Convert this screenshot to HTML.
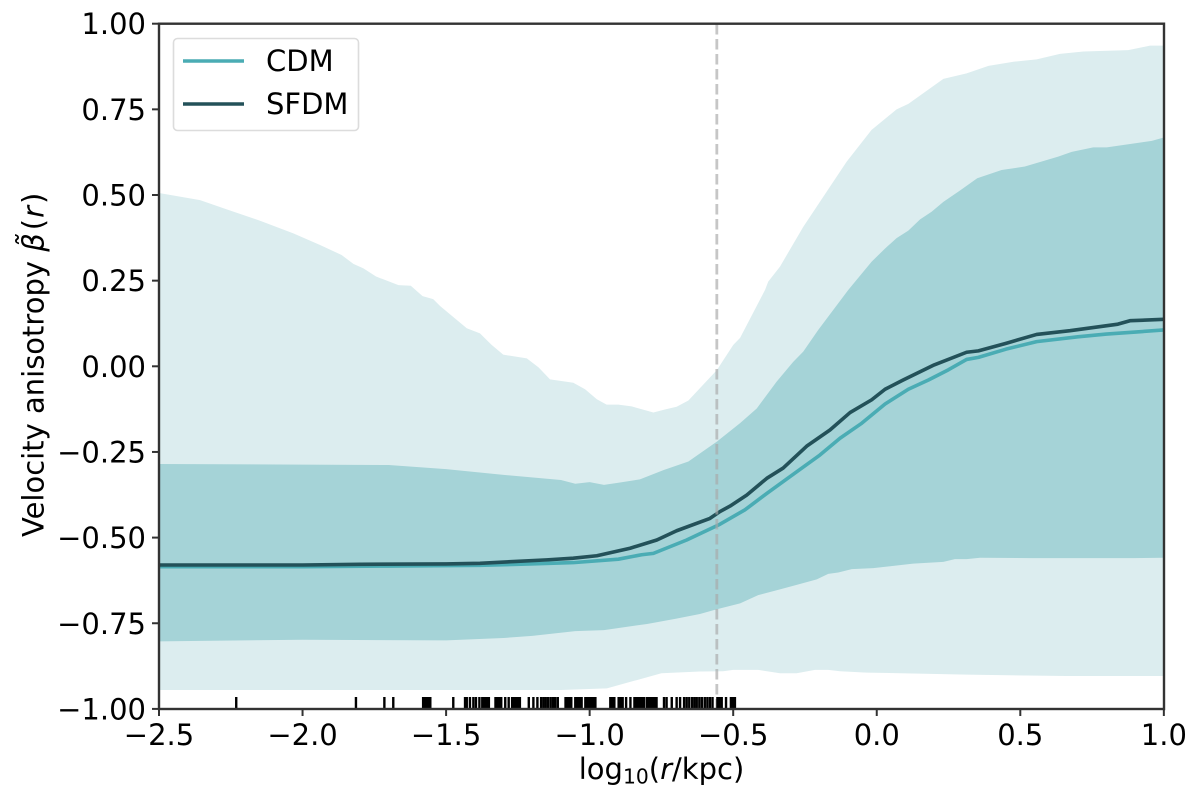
<!DOCTYPE html>
<html>
<head>
<meta charset="utf-8">
<title>Velocity anisotropy</title>
<style>
html,body{margin:0;padding:0;background:#fff;}
svg{display:block;}
text{font-family:"DejaVu Sans","Liberation Sans",sans-serif;fill:#000;}
</style>
</head>
<body>
<svg id="chart" width="1200" height="801" viewBox="0 0 1200 801" xmlns="http://www.w3.org/2000/svg">
<defs><clipPath id="plot-clip"><rect x="159" y="24" width="1005" height="685"></rect></clipPath></defs>
<g id="marks" clip-path="url(#plot-clip)"></g>
<g id="axes"></g>
<text x="661.5" y="779" font-size="29" text-anchor="middle">log<tspan font-size="20.3" dy="4.5">10</tspan><tspan dy="-4.5">(</tspan><tspan font-style="italic">r</tspan>/kpc)</text>
<text transform="translate(43.5,537) rotate(-90)" font-size="29" text-anchor="start">Velocity anisotropy <tspan font-style="italic">β̃</tspan><tspan dx="3">(</tspan><tspan font-style="italic" dx="1">r</tspan><tspan dx="2">)</tspan></text>
<g>
<rect x="173.5" y="38.5" width="185" height="92" rx="4" ry="4" fill="#fff" fill-opacity="0.85" stroke="#dcdcdc" stroke-width="1.6"></rect>
<line x1="183" x2="244" y1="61" y2="61" stroke="#4aacb4" stroke-width="3.6"></line>
<text x="266" y="71" font-size="29">CDM</text>
<line x1="183" x2="244" y1="104" y2="104" stroke="#235159" stroke-width="3.6"></line>
<text x="266" y="114" font-size="29">SFDM</text>
</g>
</svg>
<script>
const lightUpperX = [-2.5,-2.357,-2.264,-2.148,-2.032,-1.939,-1.864,-1.823,-1.788,-1.744,-1.666,-1.623,-1.582,-1.545,-1.521,-1.428,-1.382,-1.341,-1.301,-1.219,-1.178,-1.138,-1.057,-1.016,-0.975,-0.941,-0.9,-0.854,-0.778,-0.738,-0.697,-0.656,-0.557,-0.5,-0.476,-0.389,-0.378,-0.337,-0.256,-0.105,-0.018,0.069,0.11,0.232,0.313,0.389,0.476,0.557,0.638,0.72,0.876,0.952,1.0];
const lightUpperY = [0.506,0.485,0.458,0.425,0.388,0.354,0.325,0.299,0.286,0.262,0.237,0.235,0.205,0.196,0.176,0.111,0.096,0.062,0.034,0.023,-0.003,-0.038,-0.048,-0.067,-0.096,-0.112,-0.112,-0.117,-0.135,-0.126,-0.118,-0.1,-0.011,0.062,0.083,0.223,0.247,0.291,0.407,0.597,0.69,0.75,0.766,0.839,0.855,0.877,0.889,0.896,0.912,0.919,0.923,0.936,0.936];
const lightLowerX = [-2.5,-1.5,-1.1,-0.94,-0.75,-0.616,-0.535,-0.5,-0.413,-0.337,-0.279,-0.215,-0.169,-0.128,-0.035,0.313,0.661,1.0];
const lightLowerY = [-0.945,-0.945,-0.945,-0.94,-0.896,-0.891,-0.89,-0.886,-0.886,-0.896,-0.896,-0.886,-0.886,-0.89,-0.894,-0.9,-0.904,-0.904];
const midUpperX = [-2.5,-2.0,-1.7,-1.5,-1.3,-1.1,-1.05,-1.0,-0.95,-0.9,-0.825,-0.743,-0.656,-0.557,-0.476,-0.418,-0.349,-0.291,-0.256,-0.204,-0.099,-0.018,0.029,0.069,0.11,0.151,0.191,0.232,0.29,0.35,0.435,0.516,0.632,0.679,0.754,0.801,0.958,1.0];
const midUpperY = [-0.285,-0.287,-0.288,-0.3,-0.317,-0.332,-0.343,-0.338,-0.346,-0.34,-0.33,-0.303,-0.278,-0.22,-0.166,-0.123,-0.045,0.013,0.043,0.106,0.223,0.305,0.344,0.374,0.396,0.429,0.451,0.48,0.513,0.549,0.573,0.583,0.612,0.626,0.639,0.639,0.658,0.668];
const midLowerX = [-2.5,-2.0,-1.5,-1.3,-1.2,-1.05,-0.95,-0.8,-0.7,-0.616,-0.557,-0.476,-0.413,-0.337,-0.279,-0.209,-0.169,-0.134,-0.087,-0.012,0.127,0.232,0.272,0.313,0.36,0.544,0.893,1.0];
const midLowerY = [-0.803,-0.798,-0.8,-0.793,-0.787,-0.773,-0.77,-0.752,-0.737,-0.723,-0.709,-0.692,-0.668,-0.651,-0.638,-0.622,-0.606,-0.602,-0.592,-0.589,-0.576,-0.571,-0.563,-0.563,-0.559,-0.56,-0.56,-0.559];
const cdmRadius = [-2.5,-2.0,-1.7,-1.382,-1.208,-1.057,-0.9,-0.819,-0.778,-0.662,-0.546,-0.459,-0.383,-0.279,-0.198,-0.128,-0.052,0.029,0.11,0.18,0.25,0.313,0.354,0.45,0.557,0.7,0.8,0.9,1.0];
const cdmValues = [-0.585,-0.585,-0.583,-0.581,-0.577,-0.573,-0.563,-0.55,-0.546,-0.507,-0.461,-0.419,-0.371,-0.308,-0.259,-0.21,-0.166,-0.11,-0.067,-0.04,-0.01,0.02,0.026,0.05,0.072,0.086,0.094,0.1,0.106];
const sfdmRadius = [-2.5,-2.0,-1.8,-1.5,-1.382,-1.266,-1.15,-1.057,-0.975,-0.859,-0.766,-0.697,-0.581,-0.546,-0.511,-0.453,-0.383,-0.326,-0.244,-0.163,-0.093,-0.018,0.029,0.092,0.2,0.313,0.354,0.45,0.557,0.673,0.84,0.882,1.0];
const sfdmValues = [-0.58,-0.58,-0.578,-0.577,-0.575,-0.57,-0.565,-0.56,-0.553,-0.531,-0.507,-0.48,-0.444,-0.424,-0.408,-0.376,-0.327,-0.297,-0.233,-0.186,-0.135,-0.098,-0.067,-0.04,0.004,0.041,0.045,0.067,0.093,0.104,0.123,0.133,0.137];
const rugValues = [-2.231,-1.814,-1.715,-1.684,-1.58,-1.575,-1.57,-1.565,-1.56,-1.555,-1.475,-1.434,-1.428,-1.417,-1.405,-1.396,-1.384,-1.374,-1.368,-1.362,-1.356,-1.351,-1.328,-1.322,-1.315,-1.308,-1.294,-1.282,-1.27,-1.263,-1.256,-1.25,-1.243,-1.212,-1.196,-1.182,-1.169,-1.161,-1.153,-1.145,-1.136,-1.128,-1.12,-1.111,-1.084,-1.077,-1.07,-1.064,-1.05,-1.043,-1.036,-1.028,-1.015,-1.008,-1.001,-0.994,-0.987,-0.98,-0.928,-0.921,-0.914,-0.899,-0.892,-0.885,-0.873,-0.858,-0.844,-0.837,-0.83,-0.823,-0.816,-0.81,-0.8,-0.793,-0.786,-0.779,-0.772,-0.767,-0.741,-0.732,-0.714,-0.697,-0.685,-0.671,-0.662,-0.653,-0.643,-0.635,-0.627,-0.618,-0.609,-0.599,-0.59,-0.581,-0.572,-0.555,-0.548,-0.54,-0.525,-0.508,-0.501,-0.494];
const referenceRadius = [-0.557];
const xTickValues = [-2.5,-2.0,-1.5,-1.0,-0.5,0.0,0.5,1.0];
const xTickLabels = ["−2.5","−2.0","−1.5","−1.0","−0.5","0.0","0.5","1.0"];
const yTickValues = [-1,-0.75,-0.5,-0.25,0,0.25,0.5,0.75,1];
const yTickLabels = ["−1.00","−0.75","−0.50","−0.25","0.00","0.25","0.50","0.75","1.00"];

const NS = 'http://www.w3.org/2000/svg';
const xScale = v => 159 + (v + 2.5) * 287.1;
const yScale = v => 366.3 - v * 342.6;
const marks = document.getElementById('marks');
const axes = document.getElementById('axes');

function make(tag, parent, props) {
  const el = document.createElementNS(NS, tag);
  for (const k in props) el.setAttribute(k, props[k]);
  parent.appendChild(el);
  return el;
}
function bandPoints(ux, uy, lx, ly) {
  const pts = [];
  for (let i = 0; i < ux.length; i++) pts.push(xScale(ux[i]).toFixed(2) + ',' + yScale(uy[i]).toFixed(2));
  for (let i = lx.length - 1; i >= 0; i--) pts.push(xScale(lx[i]).toFixed(2) + ',' + yScale(ly[i]).toFixed(2));
  return pts.join(' ');
}
function linePoints(xs, ys) {
  return xs.map((x, i) => xScale(x).toFixed(2) + ',' + yScale(ys[i]).toFixed(2)).join(' ');
}

const outerBand = make('polygon', marks, {points: bandPoints(lightUpperX, lightUpperY, lightLowerX, lightLowerY), fill: '#dcedef'});


const innerBand = make('polygon', marks, {points: bandPoints(midUpperX, midUpperY, midLowerX, midLowerY), fill: '#a5d3d7'});



const cdmLine = make('polyline', marks, {points: linePoints(cdmRadius, cdmValues), fill: 'none', stroke: '#4aacb4', 'stroke-width': 3.6, 'stroke-linejoin': 'round'});


const sfdmLine = make('polyline', marks, {points: linePoints(sfdmRadius, sfdmValues), fill: 'none', stroke: '#235159', 'stroke-width': 3.6, 'stroke-linejoin': 'round'});



referenceRadius.forEach(v => {
  const ref = make('line', marks, {x1: xScale(v), x2: xScale(v), y1: 24, y2: 709, stroke: '#a8a8a8', 'stroke-opacity': 0.65, 'stroke-width': 2.8, 'stroke-dasharray': '10.5 4.5'});
  
  
});

rugValues.forEach(v => {
  const rug = make('line', marks, {x1: xScale(v), x2: xScale(v), y1: 697, y2: 709, stroke: '#000', 'stroke-width': 2.4});
  
  
});

xTickValues.forEach((v, i) => {
  const px = xScale(v);
  const tick = make('line', axes, {x1: px, x2: px, y1: 709, y2: 716, stroke: '#333', 'stroke-width': 2});
  
  
  const label = make('text', axes, {x: px, y: 745, 'font-size': 29, 'text-anchor': 'middle'});
  label.textContent = xTickLabels[i];
  
  
});
yTickValues.forEach((v, i) => {
  const py = yScale(v);
  const tick = make('line', axes, {x1: 152, x2: 159, y1: py, y2: py, stroke: '#333', 'stroke-width': 2});
  
  
  const label = make('text', axes, {x: 146, y: py + 10.5, 'font-size': 29, 'text-anchor': 'end'});
  label.textContent = yTickLabels[i];
  
  
});
const frame = make('rect', axes, {x: 159, y: 23.7, width: 1005, height: 685.3, fill: 'none', stroke: '#333', 'stroke-width': 2.4});


</script>
</body>
</html>
